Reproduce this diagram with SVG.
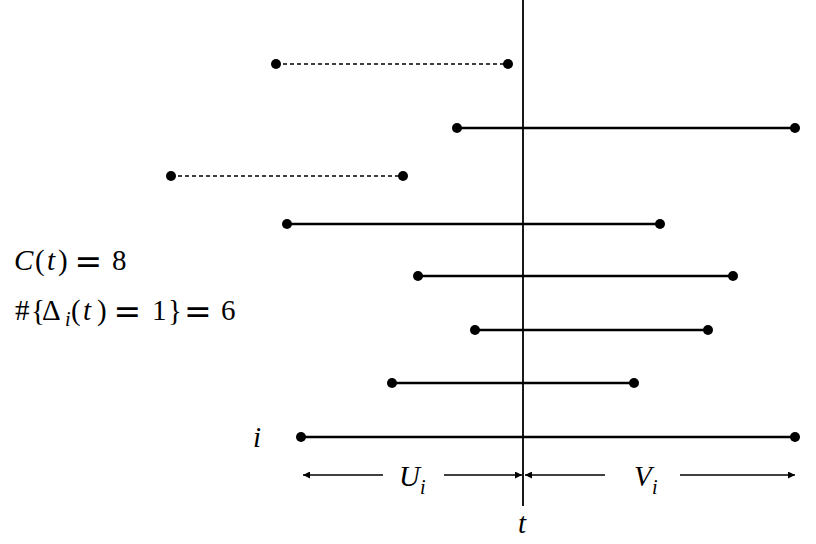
<svg xmlns="http://www.w3.org/2000/svg" width="816" height="544" viewBox="0 0 816 544">
<defs>
<style>
.seg{stroke:#000;stroke-width:2.4;fill:none}
.dash{stroke:#000;stroke-width:1.3;stroke-dasharray:4 3;fill:none}
.ax{stroke:#000;stroke-width:1.8;fill:none}
.arr{stroke:#000;stroke-width:1.6;fill:none}
.dot{fill:#000}
.t{font-family:"Liberation Serif","DejaVu Serif",serif;font-size:29px;fill:#000}
.it{font-style:italic}
.sub{font-size:20px;font-style:italic}
.eq{font-family:"DejaVu Sans","Liberation Sans",sans-serif;font-size:33px;fill:#000}
</style>
<marker id="ah" viewBox="0 0 10 10" refX="10" refY="5" markerWidth="10" markerHeight="7" markerUnits="userSpaceOnUse" orient="auto">
<path d="M0,0 L10,5 L0,10 Z" fill="#000"/>
</marker>
</defs>
<rect width="816" height="544" fill="#fff"/>
<g id="axis">
<line class="ax" x1="523" y1="0" x2="523" y2="506"/>
</g>
<g id="connectors">
<line class="dash" x1="276" y1="64" x2="508" y2="64"/>
<line class="seg" x1="457" y1="128" x2="795" y2="128"/>
<line class="dash" x1="171" y1="176" x2="403" y2="176"/>
<line class="seg" x1="287" y1="224" x2="660" y2="224"/>
<line class="seg" x1="418" y1="276" x2="733" y2="276"/>
<line class="seg" x1="475" y1="330" x2="708" y2="330"/>
<line class="seg" x1="392" y1="383" x2="634" y2="383"/>
<line class="seg" x1="301" y1="437" x2="795" y2="437"/>
<line class="arr" x1="383" y1="475" x2="303" y2="475" marker-end="url(#ah)"/>
<line class="arr" x1="444" y1="475" x2="522" y2="475" marker-end="url(#ah)"/>
<line class="arr" x1="605" y1="475" x2="525" y2="475" marker-end="url(#ah)"/>
<line class="arr" x1="680" y1="475" x2="795" y2="475" marker-end="url(#ah)"/>
</g>
<g id="dots">
<circle class="dot" cx="276" cy="64" r="5"/>
<circle class="dot" cx="508" cy="64" r="5"/>
<circle class="dot" cx="457" cy="128" r="5"/>
<circle class="dot" cx="795" cy="128" r="5"/>
<circle class="dot" cx="171" cy="176" r="5"/>
<circle class="dot" cx="403" cy="176" r="5"/>
<circle class="dot" cx="287" cy="224" r="5"/>
<circle class="dot" cx="660" cy="224" r="5"/>
<circle class="dot" cx="418" cy="276" r="5"/>
<circle class="dot" cx="733" cy="276" r="5"/>
<circle class="dot" cx="475" cy="330" r="5"/>
<circle class="dot" cx="708" cy="330" r="5"/>
<circle class="dot" cx="392" cy="383" r="5"/>
<circle class="dot" cx="634" cy="383" r="5"/>
<circle class="dot" cx="301" cy="437" r="5"/>
<circle class="dot" cx="795" cy="437" r="5"/>
</g>
<g id="formula1">
<text class="t" y="270"><tspan class="it" x="14">C</tspan><tspan x="35">(</tspan><tspan class="it" x="47">t</tspan><tspan x="58">)</tspan><tspan x="112">8</tspan></text>
<text class="eq" x="74.5" y="272.5">=</text>
</g>
<g id="formula2">
<text class="t" y="320"><tspan x="15">#</tspan><tspan x="31">{</tspan><tspan x="42">Δ</tspan><tspan class="sub" x="65" y="326">i</tspan><tspan x="71" y="320">(</tspan><tspan class="it" x="83">t</tspan><tspan x="97">)</tspan><tspan x="152">1</tspan><tspan x="168">}</tspan><tspan x="221">6</tspan></text>
<text class="eq" x="113.5" y="322.5">=</text>
<text class="eq" x="184" y="322.5">=</text>
</g>
<g id="labels">
<text class="t it" x="253" y="447">i</text>
<text class="t it" x="399" y="486">U<tspan class="sub" x="420" y="494">i</tspan></text>
<text class="t it" x="634" y="486">V<tspan class="sub" x="652" y="494">i</tspan></text>
<text class="t it" x="518" y="533">t</text>
</g>
</svg>
